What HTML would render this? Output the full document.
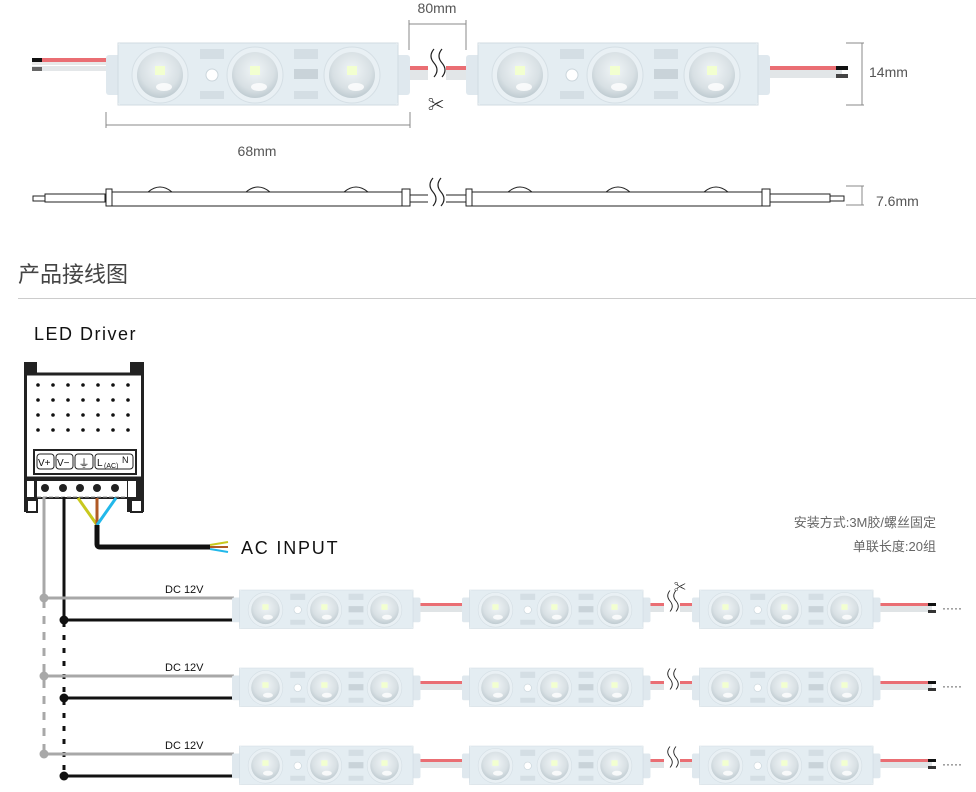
<!DOCTYPE html>
<html><head><meta charset="utf-8"><style>
html,body{margin:0;padding:0;background:#fff;}
svg{display:block;}
text{font-family:"Liberation Sans","Noto Sans CJK SC",sans-serif;}
</style></head><body>
<svg width="976" height="792" viewBox="0 0 976 792" xmlns="http://www.w3.org/2000/svg">
<defs>
<radialGradient id="lens" cx="50%" cy="40%" r="60%">
<stop offset="0" stop-color="#f0f5f7"/><stop offset="0.7" stop-color="#d8e0e4"/><stop offset="1" stop-color="#bfcbd1"/>
</radialGradient>
<g id="m">
<rect x="0" y="12" width="304" height="40" rx="3" fill="#dfe8ee"/>
<rect x="12" y="0" width="280" height="62" rx="4" fill="#e4edf2"/>
<path d="M12 0 L292 0 L292 62 L12 62Z" fill="none" stroke="#d0dbe2" stroke-width="1"/>
<circle cx="54" cy="32" r="28" fill="#e9f0f4" stroke="#d5dfe5"/>
<circle cx="149" cy="32" r="28" fill="#e9f0f4" stroke="#d5dfe5"/>
<circle cx="246" cy="32" r="28" fill="#e9f0f4" stroke="#d5dfe5"/>
<circle cx="54" cy="32" r="23" fill="url(#lens)"/>
<circle cx="149" cy="32" r="23" fill="url(#lens)"/>
<circle cx="246" cy="32" r="23" fill="url(#lens)"/>
<rect x="49" y="23" width="10" height="9" fill="#f2ffd0"/>
<rect x="144" y="23" width="10" height="9" fill="#f2ffd0"/>
<rect x="241" y="23" width="10" height="9" fill="#f2ffd0"/>
<ellipse cx="58" cy="44" rx="8" ry="4" fill="#fff" opacity=".8"/>
<ellipse cx="153" cy="44" rx="8" ry="4" fill="#fff" opacity=".8"/>
<ellipse cx="250" cy="44" rx="8" ry="4" fill="#fff" opacity=".8"/>
<circle cx="106" cy="32" r="6" fill="#fff" stroke="#cbd6dc"/>
<rect x="94" y="6" width="24" height="10" fill="#d4dee4"/>
<rect x="94" y="48" width="24" height="8" fill="#d4dee4"/>
<rect x="188" y="6" width="24" height="10" fill="#d4dee4"/>
<rect x="188" y="26" width="24" height="10" fill="#c9d3d9"/>
<rect x="188" y="48" width="24" height="8" fill="#d4dee4"/>
</g>
<g id="brk"><path d="M0 -14 q-6 7 0 14 q6 7 0 14" fill="none" stroke="#222" stroke-width="1.2"/><path d="M8 -14 q-6 7 0 14 q6 7 0 14" fill="none" stroke="#222" stroke-width="1.2"/></g>
</defs>

<rect x="32" y="58" width="74" height="4" fill="#ea6e73"/>
<rect x="32" y="62" width="74" height="3" fill="#e8e8e8"/>
<rect x="32" y="66" width="74" height="5" fill="#e4e7e9"/>
<rect x="32" y="58" width="10" height="4" fill="#111"/>
<rect x="32" y="67" width="10" height="4" fill="#666"/>
<rect x="410" y="66" width="58" height="4" fill="#ea6e73"/>
<rect x="410" y="70" width="58" height="10" fill="#e2e6e8"/>
<rect x="428" y="58" width="18" height="30" fill="#fff"/>
<use href="#brk" transform="translate(434,63)"/>
<text x="436" y="110" font-size="16" text-anchor="middle" fill="#222">✂</text>
<rect x="770" y="66" width="72" height="4" fill="#ea6e73"/>
<rect x="770" y="70" width="72" height="8" fill="#e2e6e8"/>
<rect x="836" y="66" width="12" height="4" fill="#111"/>
<rect x="836" y="74" width="12" height="4" fill="#444"/>
<use href="#m" transform="translate(106,43)"/>
<use href="#m" transform="translate(466,43)"/>
<g stroke="#888" stroke-width="1" fill="none">
<path d="M409 20 V50 M466 20 V50 M409 24 H466"/>
<path d="M106 112 V128 M410 112 V128 M106 125 H410"/>
<path d="M846 43 H864 M846 105 H864 M862 43 V105"/>
<path d="M846 186 H864 M846 205 H864 M862 186 V205"/>
</g>
<text x="437" y="13" font-size="14" text-anchor="middle" fill="#555">80mm</text>
<text x="257" y="156" font-size="14" text-anchor="middle" fill="#555">68mm</text>
<text x="869" y="77" font-size="14" fill="#555">14mm</text>
<text x="876" y="206" font-size="14" fill="#555">7.6mm</text>
<g stroke="#222" stroke-width="1" fill="#fff">
<rect x="33" y="196" width="12" height="5"/>
<rect x="45" y="194" width="60" height="8"/>
<path d="M148 192 q12 -10 24 0 M246 192 q12 -10 24 0 M344 192 q12 -10 24 0"/>
<path d="M106 192 H410 V206 H106Z"/>
<rect x="106" y="189" width="6" height="17"/>
<rect x="402" y="189" width="8" height="17"/>
<rect x="410" y="195" width="56" height="7"/>
<path d="M508 192 q12 -10 24 0 M606 192 q12 -10 24 0 M704 192 q12 -10 24 0"/>
<path d="M466 192 H770 V206 H466Z"/>
<rect x="466" y="189" width="6" height="17"/>
<rect x="762" y="189" width="8" height="17"/>
<rect x="770" y="194" width="60" height="8"/>
<rect x="830" y="196" width="14" height="5"/>
</g>
<rect x="428" y="184" width="18" height="26" fill="#fff"/>
<use href="#brk" transform="translate(433,192)"/>

<text x="18" y="282" font-size="22" fill="#444">产品接线图</text>
<rect x="18" y="298" width="958" height="1" fill="#ccc"/>
<text x="34" y="340" font-size="18" fill="#111" letter-spacing="1.5">LED Driver</text>

<g>
<rect x="24" y="362" width="13" height="13" fill="#222"/><rect x="130" y="362" width="14" height="13" fill="#222"/>
<rect x="25.5" y="374" width="117" height="104" fill="#fff" stroke="#222" stroke-width="3"/>
<g fill="#111">
<circle cx="38" cy="385" r="1.8"/><circle cx="53" cy="385" r="1.8"/><circle cx="68" cy="385" r="1.8"/><circle cx="83" cy="385" r="1.8"/><circle cx="98" cy="385" r="1.8"/><circle cx="113" cy="385" r="1.8"/><circle cx="128" cy="385" r="1.8"/>
<circle cx="38" cy="400" r="1.8"/><circle cx="53" cy="400" r="1.8"/><circle cx="68" cy="400" r="1.8"/><circle cx="83" cy="400" r="1.8"/><circle cx="98" cy="400" r="1.8"/><circle cx="113" cy="400" r="1.8"/><circle cx="128" cy="400" r="1.8"/>
<circle cx="38" cy="415" r="1.8"/><circle cx="53" cy="415" r="1.8"/><circle cx="68" cy="415" r="1.8"/><circle cx="83" cy="415" r="1.8"/><circle cx="98" cy="415" r="1.8"/><circle cx="113" cy="415" r="1.8"/><circle cx="128" cy="415" r="1.8"/>
<circle cx="38" cy="430" r="1.8"/><circle cx="53" cy="430" r="1.8"/><circle cx="68" cy="430" r="1.8"/><circle cx="83" cy="430" r="1.8"/><circle cx="98" cy="430" r="1.8"/><circle cx="113" cy="430" r="1.8"/><circle cx="128" cy="430" r="1.8"/>
</g>
<rect x="34" y="450" width="102" height="24" fill="#fff" stroke="#222" stroke-width="2"/>
<g fill="none" stroke="#222" stroke-width="1"><rect x="37" y="454" width="17" height="15" rx="3"/><rect x="56" y="454" width="17" height="15" rx="3"/><rect x="75" y="454" width="18" height="15" rx="3"/><rect x="95" y="454" width="38" height="15" rx="3"/></g>
<text x="38" y="466" font-size="10" fill="#111">V+</text><text x="57" y="466" font-size="10" fill="#111">V−</text>
<text x="84" y="467" font-size="11" text-anchor="middle" fill="#111">⏚</text>
<text x="97" y="466" font-size="10" fill="#111">L</text><text x="104" y="468" font-size="7" fill="#111">(AC)</text><text x="122" y="463" font-size="9" fill="#111">N</text>
<rect x="24" y="478" width="120" height="34" fill="#222"/>
<rect x="37" y="481" width="90" height="16" fill="#fff"/>
<rect x="27" y="481" width="7" height="16" fill="#fff"/>
<rect x="128" y="481" width="8" height="16" fill="#fff"/>
<g fill="#222"><circle cx="45" cy="488" r="4"/><circle cx="63" cy="488" r="4"/><circle cx="80" cy="488" r="4"/><circle cx="97" cy="488" r="4"/><circle cx="115" cy="488" r="4"/></g>
<rect x="37" y="499" width="90" height="13" fill="#fff"/>
<path d="M37 497 H127" stroke="#999" stroke-dasharray="4 2"/>
<rect x="27" y="500" width="10" height="12" fill="#fff" stroke="#222" stroke-width="2"/>
<rect x="131" y="500" width="11" height="12" fill="#fff" stroke="#222" stroke-width="2"/>
</g>
<path d="M78 498 L97 525" stroke="#c8c81e" stroke-width="3"/>
<path d="M97 498 V525" stroke="#b05a25" stroke-width="3"/>
<path d="M116 498 L97 525" stroke="#22b8ea" stroke-width="3"/>
<path d="M97 525 V544 Q97 547 100 547 H210" stroke="#111" stroke-width="5" fill="none"/>
<path d="M210 545 L228 542" stroke="#c8c81e" stroke-width="2"/>
<path d="M210 547 H228" stroke="#b05a25" stroke-width="2"/>
<path d="M210 549 L228 552" stroke="#22b8ea" stroke-width="2"/>
<text x="241" y="554" font-size="18" fill="#111" letter-spacing="1.8">AC INPUT</text>
<text x="936" y="527" font-size="13" text-anchor="end" fill="#666">安装方式:3M胶/螺丝固定</text>
<text x="936" y="551" font-size="13" text-anchor="end" fill="#666">单联长度:20组</text>

<path d="M44 497 V598" stroke="#a8a8a8" stroke-width="3"/>
<path d="M64 497 V620" stroke="#111" stroke-width="3"/>
<path d="M44 600 V754" stroke="#a8a8a8" stroke-width="3" stroke-dasharray="8 8"/>
<path d="M64 622 V776" stroke="#111" stroke-width="3" stroke-dasharray="5 8"/>

<g id="row">
<path d="M44 598 H234" stroke="#a8a8a8" stroke-width="3"/>
<path d="M64 620 H234" stroke="#111" stroke-width="3"/>
<circle cx="44" cy="598" r="4.5" fill="#a8a8a8"/>
<circle cx="64" cy="620" r="4.5" fill="#111"/>
<text x="165" y="593" font-size="11" fill="#111">DC 12V</text>
<rect x="420" y="603" width="44" height="3" fill="#ea6e73"/><rect x="420" y="606" width="44" height="6" fill="#e0e4e6"/>
<rect x="650" y="603" width="44" height="3" fill="#ea6e73"/><rect x="650" y="606" width="44" height="6" fill="#e0e4e6"/>
<rect x="664" y="596" width="16" height="24" fill="#fff"/>
<g transform="translate(670,601) scale(.75)"><use href="#brk"/></g>
<rect x="880" y="603" width="52" height="3" fill="#ea6e73"/><rect x="880" y="606" width="52" height="6" fill="#e0e4e6"/>
<rect x="928" y="603" width="8" height="3" fill="#111"/><rect x="928" y="610" width="8" height="3" fill="#333"/>
<text x="942" y="612" font-size="12" fill="#333">·····</text>
<use href="#m" transform="translate(232,590) scale(.62)"/>
<use href="#m" transform="translate(462,590) scale(.62)"/>
<use href="#m" transform="translate(692,590) scale(.62)"/>
</g>
<use href="#row" transform="translate(0,78)"/>
<use href="#row" transform="translate(0,156)"/>
<text x="680" y="591" font-size="12" text-anchor="middle" fill="#222">✂</text>
</svg>
</body></html>
